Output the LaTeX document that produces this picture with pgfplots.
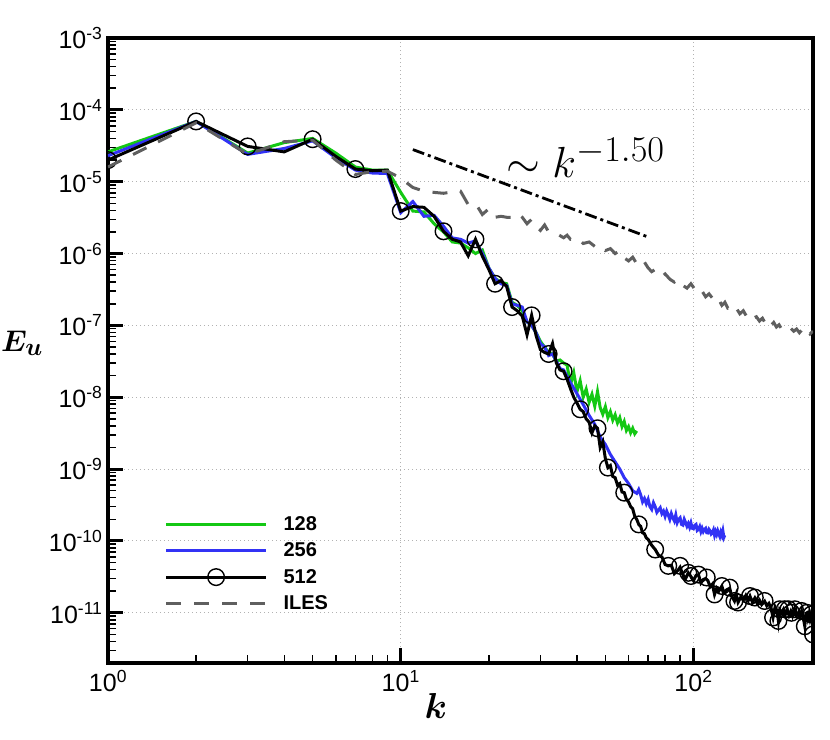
\documentclass[border=0pt]{standalone}
\usepackage{pgfplots}
\pgfplotsset{compat=1.18}
\usepackage{pgfplotstable}
\usepackage{bm}
\usepackage[no-math]{fontspec}
\setmainfont{Liberation Sans}
\definecolor{cgreen}{RGB}{20,200,20}
\definecolor{cblue}{RGB}{50,50,245}
\definecolor{cgray}{RGB}{95,95,95}

\pgfplotstableread{
k E
1 2.6e-5
2 6.9e-5
3 2.5e-5
4 3.5e-5
5 4.0e-5
6 2.5e-5
7 1.6e-5
8 1.45e-5
9 1.45e-5
10 7.1e-6
11 3.9e-6
12 3.8e-6
13 2.6e-6
14 2.0e-6
15 1.45e-6
16 1.4e-6
17 1.2e-6
18 1.0e-6
19 1.12e-6
20 6.3e-7
21 4.5e-7
22 4.0e-7
23 3.8e-7
24 2.1e-7
25 1.9e-7
26 1.6e-7
27 1.12e-7
28 1.0e-7
29 7.9e-8
30 6.0e-8
31 5.0e-8
32 4.2e-8
33 4.0e-8
34 3.2e-8
35 3.3e-8
36 3.0e-8
37 2.8e-8
38 1.5e-8
39 2.2e-8
40 1.2e-8
41 1.7e-8
42 1.0e-8
43 1.3e-8
44 8.5e-9
45 1.1e-8
46 7.5e-9
47 1.2e-8
48 7.2e-9
49 5.8e-9
50 7.4e-9
51 5.2e-9
52 6.3e-9
53 4.8e-9
54 5.7e-9
55 4.4e-9
56 5.2e-9
57 3.9e-9
58 4.6e-9
59 3.45e-9
60 3.9e-9
61 3.2e-9
62 3.7e-9
63 3.1e-9
64 3.4e-9
}\dataA

\pgfplotstableread{
k E
1 2.3e-5
2 6.9e-5
3 2.4e-5
4 2.9e-5
5 3.7e-5
6 2.15e-5
7 1.45e-5
8 1.32e-5
9 1.3e-5
10 3.7e-6
11 5.3e-6
12 3.3e-6
13 3.4e-6
14 2.4e-6
15 1.65e-6
16 1.58e-6
17 1.4e-6
18 1.5e-6
19 1.0e-6
20 6.3e-7
21 4.5e-7
22 3.8e-7
23 3.6e-7
24 2.0e-7
25 1.9e-7
26 1.8e-7
27 1.12e-7
28 1.0e-7
29 7.9e-8
30 5.6e-8
31 5.0e-8
32 3.8e-8
33 4.0e-8
34 3.2e-8
35 2.5e-8
36 2.4e-8
38 1.6e-8
40 1.12e-8
42 7.9e-9
44 5.6e-9
46 4.2e-9
48 2.8e-9
50 2.2e-9
52 1.6e-9
54 1.26e-9
56 1.0e-9
58 7.6e-10
60 6.3e-10
62 5.0e-10
64 4.6e-10
65 5.2e-10
66 4.4e-10
67 3.5e-10
68 3.9e-10
69 3.3e-10
70 3.8e-10
71 3.0e-10
72 2.75e-10
73 3.4e-10
74 3.0e-10
75 2.5e-10
76 2.7e-10
77 2.9e-10
78 2.4e-10
79 2.6e-10
80 2.2e-10
81 2.6e-10
82 2.3e-10
83 2.0e-10
84 2.4e-10
85 2.1e-10
86 1.9e-10
87 2.3e-10
88 1.8e-10
89 2.0e-10
90 2.1e-10
91 1.7e-10
92 1.66e-10
93 2.0e-10
94 1.8e-10
95 1.6e-10
96 1.75e-10
97 1.55e-10
98 1.78e-10
99 1.5e-10
100 1.48e-10
101 1.65e-10
102 1.7e-10
103 1.4e-10
104 1.45e-10
105 1.58e-10
106 1.35e-10
107 1.5e-10
108 1.35e-10
109 1.45e-10
110 1.5e-10
111 1.3e-10
112 1.29e-10
113 1.45e-10
114 1.38e-10
115 1.25e-10
116 1.3e-10
117 1.42e-10
118 1.2e-10
119 1.35e-10
120 1.23e-10
121 1.38e-10
122 1.25e-10
123 1.15e-10
124 1.32e-10
125 1.2e-10
126 1.38e-10
127 1.12e-10
128 1.2e-10
}\dataB

\pgfplotstableread{
k E
1 2.0e-5
2 6.9e-5
3 3.1e-5
4 2.6e-5
5 3.9e-5
6 2.25e-5
7 1.5e-5
8 1.42e-5
9 1.45e-5
10 3.9e-6
11 4.5e-6
12 4.4e-6
13 3.3e-6
14 2.04e-6
15 1.58e-6
16 1.45e-6
17 9.3e-7
18 1.58e-6
19 9.2e-7
20 6.0e-7
21 3.8e-7
22 4.2e-7
23 3.5e-7
24 1.8e-7
25 1.6e-7
26 1.35e-7
27 7.4e-8
28 1.38e-7
29 7.2e-8
30 4.6e-8
31 4.2e-8
32 4.0e-8
33 5.6e-8
34 3.0e-8
35 2.4e-8
36 2.3e-8
37 1.78e-8
38 1.32e-8
39 1.0e-8
40 8.3e-9
41 6.8e-9
42 6.3e-9
43 5.0e-9
44 4.5e-9
45 3.2e-9
46 4.0e-9
47 3.7e-9
48 2.0e-9
49 2.4e-9
50 1.4e-9
51 1.05e-9
52 1.12e-9
53 7.9e-10
54 7.6e-10
55 6.0e-10
56 6.3e-10
57 4.8e-10
58 4.7e-10
59 3.8e-10
60 3.5e-10
61 3.0e-10
62 2.8e-10
63 2.2e-10
64 2.0e-10
65 1.7e-10
66 1.6e-10
67 1.3e-10
68 1.26e-10
69 1.1e-10
70 1.05e-10
72 8.7e-11
74 7.6e-11
76 6.3e-11
78 6.0e-11
80 4.7e-11
82 4.5e-11
84 4.6e-11
86 3.5e-11
88 3.8e-11
90 4.3e-11
92 3.4e-11
94 3.0e-11
96 3.6e-11
98 3.2e-11
100 2.8e-11
102 3.3e-11
104 3.4e-11
106 2.6e-11
108 2.9e-11
110 3.0e-11
112 2.8e-11
114 2.3e-11
116 2.5e-11
118 1.8e-11
120 2.2e-11
122 2.0e-11
125 2.35e-11
127 1.9e-11
130 2.1e-11
133 2.2e-11
135 1.7e-11
138 1.46e-11
140 1.8e-11
142 1.4e-11
145 1.65e-11
148 1.5e-11
151 1.75e-11
154 1.5e-11
156 1.7e-11
159 1.4e-11
162 1.6e-11
165 1.35e-11
168 1.5e-11
171 1.3e-11
175 1.45e-11
178 1.25e-11
181 1.35e-11
184 1.15e-11
187 8.6e-12
190 1.2e-11
193 1.05e-11
195 7.7e-12
197 1.1e-11
200 1.0e-11
203 1.12e-11
206 9.5e-12
209 1.1e-11
212 9.2e-12
215 1.05e-11
218 9.0e-12
222 1.1e-11
225 9.2e-12
228 1.0e-11
231 8.8e-12
234 1.05e-11
237 8.6e-12
240 6.5e-12
242 9.8e-12
244 1.0e-11
246 8.4e-12
248 9.6e-12
250 8.2e-12
252 9.4e-12
254 8.5e-12
255 9.2e-12
256 5.0e-12
}\dataC

\pgfplotstableread{
k E
1 2.0e-5
2 6.9e-5
3 3.1e-5
5 3.9e-5
7 1.5e-5
10 3.9e-6
14 2.04e-6
18 1.58e-6
21 3.8e-7
24 1.8e-7
28 1.38e-7
32 4.0e-8
36 2.3e-8
41 6.8e-9
47 3.7e-9
51 1.05e-9
58 4.7e-10
65 1.7e-10
74 7.6e-11
82 4.5e-11
90 4.5e-11
96 3.6e-11
98 3.25e-11
104 3.4e-11
111 3.1e-11
118 1.8e-11
125 2.36e-11
133 2.24e-11
138 1.46e-11
142 1.39e-11
156 1.71e-11
162 1.63e-11
175 1.46e-11
187 8.6e-12
195 7.7e-12
197 1.12e-11
205 1.12e-11
211 1.12e-11
216 1.0e-11
222 1.12e-11
234 1.06e-11
240 6.5e-12
244 1.0e-11
253 9.5e-12
256 5.0e-12
}\dataCm

\pgfplotstableread{
k E
1 1.6e-5
2 6.6e-5
3 2.4e-5
4 3.6e-5
5 3.8e-5
6 2.0e-5
7 1.26e-5
8 1.38e-5
9 1.4e-5
10 1.12e-5
11 8.3e-6
12 7.4e-6
13 7.1e-6
14 6.9e-6
15 7.2e-6
16 7.4e-6
17 4.8e-6
18 5.0e-6
19 3.5e-6
20 4.2e-6
21 3.2e-6
22 3.3e-6
23 3.2e-6
24 3.2e-6
25 3.6e-6
26 3.2e-6
27 2.6e-6
28 3.0e-6
29 2.4e-6
30 2.1e-6
31 2.5e-6
32 2.0e-6
34 1.9e-6
36 1.66e-6
37 1.8e-6
38 1.58e-6
40 1.66e-6
42 1.38e-6
44 1.45e-6
46 1.26e-6
48 1.32e-6
50 1.1e-6
52 1.17e-6
54 1.0e-6
56 1.1e-6
58 8.7e-7
60 7.9e-7
62 8.9e-7
64 7.2e-7
66 6.6e-7
68 7.6e-7
70 6.3e-7
72 5.6e-7
74 6.0e-7
76 5.2e-7
78 4.8e-7
80 5.2e-7
83 4.4e-7
86 4.0e-7
89 4.4e-7
92 3.6e-7
95 3.3e-7
98 3.8e-7
101 3.2e-7
104 2.75e-7
107 3.0e-7
110 2.5e-7
113 2.75e-7
116 2.4e-7
119 2.1e-7
122 2.3e-7
125 1.9e-7
128 2.1e-7
131 1.74e-7
134 1.8e-7
137 1.6e-7
140 1.74e-7
144 1.45e-7
148 1.6e-7
152 1.32e-7
156 1.45e-7
160 1.26e-7
164 1.32e-7
168 1.15e-7
172 1.26e-7
176 1.07e-7
180 1.17e-7
184 1.0e-7
188 1.1e-7
192 9.5e-8
196 1.02e-7
200 8.9e-8
205 9.5e-8
210 8.7e-8
215 9.1e-8
220 8.3e-8
225 8.9e-8
230 7.9e-8
235 8.7e-8
240 7.8e-8
245 8.5e-8
250 7.6e-8
256 8.3e-8
}\dataD

\begin{document}
\begin{tikzpicture}
\begin{axis}[
  width=705pt, height=625pt, scale only axis,
  xmode=log, ymode=log,
  xmin=1, xmax=256, ymin=2e-12, ymax=1e-3,
  separate axis lines,
  every outer x axis line/.append style={line width=4pt, line cap=rect},
  every outer y axis line/.append style={line width=4pt, line cap=rect},
  tick align=inside, xtick pos=bottom, ytick pos=left,
  major tick length=15pt, minor tick length=8pt,
  every major tick/.style={line width=3pt, black},
  every minor tick/.style={line width=1.5pt, black},
  grid=major,
  major grid style={dash pattern=on 1pt off 3pt, black!30, line width=1pt},
  ticklabel style={font=\fontsize{25}{28}\selectfont},
  xticklabel={\pgfmathparse{int(round(\tick/ln(10)))}10\textsuperscript{\pgfmathresult}},
  yticklabel={\pgfmathparse{int(round(\tick/ln(10)))}10\textsuperscript{\pgfmathresult}},
  xticklabel style={yshift=-4pt},
  yticklabel style={xshift=-2pt},
  xlabel={$\bm{k}$},
  xlabel style={at={(axis description cs:0.465,-0.069)}, anchor=center, scale=1.45, font=\Huge},
  ylabel={$\bm{E_u}$},
  ylabel style={at={(axis description cs:-0.122,0.512)}, anchor=center, rotate=-90, scale=1.2, font=\Huge},
  clip marker paths=true,
  legend image code/.code={\draw[mark repeat=2,mark phase=2,#1] plot coordinates {(0pt,0pt) (50pt,0pt) (100pt,0pt)};},
  legend style={draw=none, fill=none, inner sep=0pt, at={(axis description cs:0.08,0.238)}, anchor=north west,
    font=\fontsize{20}{22}\selectfont\bfseries, row sep=7pt, column sep=14pt},
  legend cell align=left,
]
\addplot[cgreen, line width=3pt] table[x=k,y=E]{\dataA};
\addlegendentry{128}
\addplot[cblue, line width=3pt] table[x=k,y=E]{\dataB};
\addlegendentry{256}
\addlegendimage{black, line width=3pt, mark=o, mark size=8.3pt, mark options={line width=1.4pt}}
\addlegendentry{512}
\addplot[black, line width=3pt, forget plot] table[x=k,y=E]{\dataC};
\addplot[black, only marks, mark=o, mark size=8.3pt, mark options={line width=1.4pt}, forget plot] table[x=k,y=E]{\dataCm};
\addplot[cgray, line width=3pt, dash pattern=on 15pt off 13pt] table[x=k,y=E]{\dataD};
\addlegendentry{ILES}
\addplot[black, line width=2.8pt, dash pattern=on 12pt off 4pt on 3pt off 4pt, forget plot] coordinates {(11,2.8e-5) (70,1.7e-6)};
\node[anchor=base west, scale=1.75, inner sep=0pt] at (axis cs:22.9,1.14e-5) {\Huge $\sim k^{-1.50}$};
\coordinate (ll) at (rel axis cs:0,0);
\end{axis}
\pgfresetboundingbox
\path (ll) ++(-108pt,-76pt) rectangle ++(830pt,739pt);
\end{tikzpicture}
\end{document}
